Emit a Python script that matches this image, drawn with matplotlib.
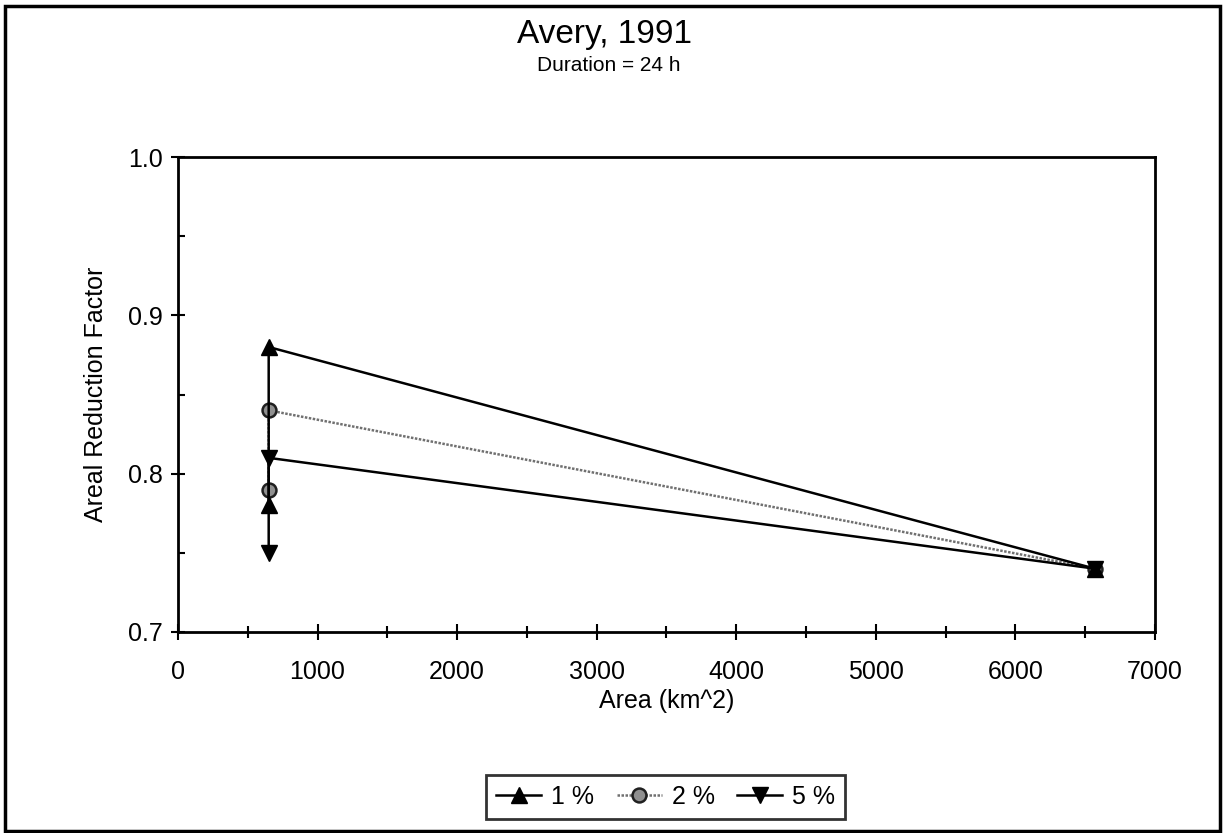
import matplotlib
matplotlib.use("Agg")
from matplotlib import pyplot as plt
from matplotlib.patches import Rectangle
from matplotlib.ticker import MultipleLocator, FormatStrFormatter

plt.rcParams['font.family'] = ['Liberation Sans', 'DejaVu Sans']

# data
area = [650, 650, 6570]
arf_1 = [0.78, 0.88, 0.74]
arf_2 = [0.79, 0.84, 0.74]
arf_5 = [0.75, 0.81, 0.74]
labels = ['1 %', '2 %', '5 %']

fig = plt.figure(figsize=(12.24, 8.33), dpi=100)
ax = fig.add_axes([0.1454, 0.2413, 0.7982, 0.5702])

ax.plot(area, arf_1, color='black', lw=1.8, marker='^', ms=11, mfc='black', mec='black', label=labels[0], zorder=3)
ax.plot(area, arf_2, color='#707070', lw=1.8, ls=(0, (1, 0.6)), marker='o', ms=10, mfc='#909090', mec='#202020', mew=1.8, label=labels[1], zorder=2)
ax.plot(area, arf_5, color='black', lw=1.8, marker='v', ms=11, mfc='black', mec='black', label=labels[2], zorder=3)

ax.set_xlim(0, 7000)
ax.set_ylim(0.7, 1.0)
ax.xaxis.set_major_locator(MultipleLocator(1000))
ax.xaxis.set_minor_locator(MultipleLocator(500))
ax.yaxis.set_major_locator(MultipleLocator(0.1))
ax.yaxis.set_minor_locator(MultipleLocator(0.05))
ax.yaxis.set_major_formatter(FormatStrFormatter('%.1f'))
ax.tick_params(axis='x', which='major', direction='inout', length=12, width=1.5, labelsize=18, pad=14)
ax.tick_params(axis='x', which='minor', direction='inout', length=9, width=1.5)
ax.tick_params(axis='y', which='major', direction='inout', length=10, width=1.5, labelsize=18, pad=6)
ax.tick_params(axis='y', which='minor', direction='in', length=5, width=1.5)
for s in ax.spines.values():
    s.set_linewidth(2)

ax.set_xlabel('Area (km^2)', fontsize=18, labelpad=4)
ax.set_ylabel('Areal Reduction Factor', fontsize=18, labelpad=14)

fig.text(0.494, 0.958, 'Avery, 1991', ha='center', va='center', fontsize=24)
fig.text(0.497, 0.921, 'Duration = 24 h', ha='center', va='center', fontsize=15)

leg = fig.legend(loc='center', bbox_to_anchor=(0.544, 0.043), ncol=3, fontsize=18,
                 frameon=True, fancybox=False, edgecolor='black', handlelength=1.8,
                 handletextpad=0.4, columnspacing=0.9, borderpad=0.4)
leg.get_frame().set_linewidth(2)

fig.patches.append(Rectangle((0.004, 0.003), 0.993, 0.99, transform=fig.transFigure,
                             fill=False, edgecolor='black', lw=2.5))

fig.savefig('out.png', dpi=100)
